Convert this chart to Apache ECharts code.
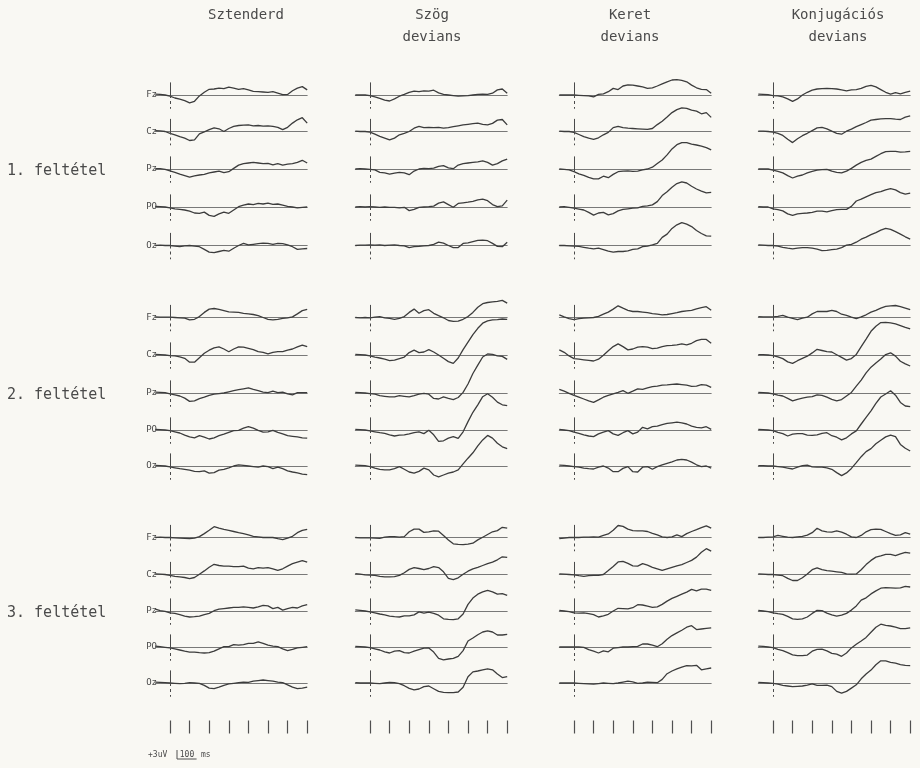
<!DOCTYPE html>
<html><head><meta charset="utf-8">
<script src="https://cdn.jsdelivr.net/npm/echarts@6/dist/echarts.min.js"></script>
<style>html,body{margin:0;padding:0;background:#f9f8f3}#chart{width:920px;height:768px}</style>
</head><body><div id="chart"></div>
<script>
// ---- axes / labels ----
const times = [-75,-50,-25,0,25,50,75,100,125,150,175,200,225,250,275,300,325,350,375,400,425,450,475,500,525,550,575,600,625,650,675,700];
const tickTimes = [0,100,200,300,400,500,600,700];
const channels = ['Fz','Cz','Pz','PO','Oz'];
const columnTitles = [['Sztenderd'],['Szög','devians'],['Keret','devians'],['Konjugációs','devians']];
const conditions = ['1. feltétel','2. feltétel','3. feltétel'];
const scaleLabel = '+3uV';
const scaleMsNum = '100';
const scaleMsUnit = 'ms';
const SCALE_UV = 3, SCALE_MS = 100;

// ---- 1. feltétel (µV) ----
const c1_szt_Fz = [0.3,0.2,0,-0.4,-1.0,-1.4,-1.9,-2.6,-2.1,-0.3,0.9,1.9,2.0,2.3,2.1,2.6,2.3,1.9,2.1,1.7,1.2,1.1,1.0,0.9,1.1,0.6,0.1,0.2,1.4,2.3,2.8,1.7];
const c1_szt_Cz = [0.3,0.2,0,-0.6,-1.1,-1.7,-2.2,-3.0,-2.8,-0.8,-0.1,0.6,1.2,0.9,0,1.0,1.7,2.0,2.1,2.2,1.9,2.0,1.8,1.9,1.7,1.4,0.6,1.4,2.8,3.9,4.6,2.8];
const c1_szt_Pz = [0.1,0.1,-0.1,-0.6,-1.1,-1.7,-2.2,-2.7,-2.3,-2.0,-1.8,-1.3,-1.0,-0.7,-1.2,-0.9,0.2,1.3,1.8,2.0,2.2,2.0,1.8,1.9,1.4,1.8,1.3,1.6,1.8,2.2,2.9,2.0];
const c1_szt_PO = [0.2,0.1,0,-0.3,-0.6,-0.8,-1.0,-1.4,-2.0,-2.1,-1.7,-2.8,-3.1,-2.3,-1.7,-2.1,-1.0,0.1,0.6,1.0,0.8,1.2,1.0,1.3,0.9,1.0,0.6,0.2,0,-0.3,-0.1,0];
const c1_szt_Oz = [0,0.1,0,0,-0.2,-0.4,-0.1,0,-0.2,-0.4,-1.3,-2.2,-2.4,-2.0,-1.6,-1.9,-0.9,0,0.7,0.2,0.4,0.6,0.8,0.7,0.4,0.7,0.6,0.2,-0.4,-1.3,-1.1,-1.0];

const c1_szog_Fz = [0,0,0,-0.2,-0.6,-1.1,-1.7,-2.0,-1.3,-0.4,0.2,0.9,1.3,1.1,1.4,1.3,1.6,0.7,0.2,0,-0.2,-0.4,-0.3,-0.2,0,0.2,0.3,0.2,0.6,1.7,2.0,0.6];
const c1_szog_Cz = [0.1,0,0,-0.2,-0.9,-1.6,-2.2,-2.8,-2.2,-1.1,-0.6,0,1.1,1.7,1.3,1.4,1.3,1.4,1.1,1.3,1.6,1.9,2.2,2.4,2.6,2.8,2.4,2.2,2.7,3.8,4.0,2.2];
const c1_szog_Pz = [0,0.1,0,-0.1,-0.3,-1.1,-1.3,-1.7,-1.4,-1.1,-1.3,-1.9,-0.7,0,0.2,0.1,0.3,0.9,1.1,0.4,0.1,1.3,1.8,2.0,2.2,2.4,2.7,2.2,1.3,1.8,2.7,3.3];
const c1_szog_PO = [0,0.1,0,0.1,0,-0.1,0,-0.1,-0.1,-0.3,-0.1,-1.2,-0.8,-0.1,0,0.1,0.3,1.3,1.7,0.8,-0.1,1.2,1.4,1.6,1.9,2.4,2.6,2.1,0.8,0.1,0.4,2.3];
const c1_szog_Oz = [0,0.1,0.1,0.2,0.1,0.2,0,0.1,0.2,0,-0.1,-0.7,-0.4,-0.3,-0.1,0,0.4,1.1,0.8,0,-0.7,-0.7,0.7,0.9,1.3,1.7,1.8,1.6,0.7,-0.3,-0.4,1.1];

const c1_ker_Fz = [0,0,0,0,-0.1,-0.2,-0.3,-0.6,0.2,0.4,1.1,2.2,1.8,3.0,3.4,3.3,3.0,2.7,2.2,2.4,3.0,3.7,4.4,5.0,5.1,4.9,4.4,3.3,2.4,1.9,1.8,0.6];
const c1_ker_Cz = [0.1,0,0,-0.3,-1.0,-1.7,-2.2,-2.6,-2.1,-1.1,-0.3,1.3,1.7,1.3,1.1,1.0,0.9,0.8,0.7,1.0,2.3,3.4,4.8,6.3,7.3,7.9,7.7,7.1,6.8,5.9,6.3,4.7];
const c1_ker_Pz = [0,-0.1,-0.3,-0.9,-1.6,-2.1,-2.8,-3.3,-3.3,-2.4,-2.9,-1.8,-0.9,-0.7,-0.6,-0.8,-0.7,-0.3,0,0.6,1.8,3.0,4.7,6.7,8.1,8.8,8.8,8.3,8.0,7.6,7.1,6.4];
const c1_ker_PO = [0,0.1,-0.1,-0.4,-0.7,-1.0,-1.8,-2.7,-2.0,-1.8,-2.6,-2.2,-1.3,-0.8,-0.6,-0.4,-0.3,0.2,0.4,0.7,1.8,3.8,5.1,6.6,7.8,8.4,8.0,6.9,6.0,5.3,4.7,4.9];
const c1_ker_Oz = [0,0,-0.1,-0.2,-0.3,-0.6,-0.9,-1.1,-0.9,-1.4,-1.9,-2.2,-2.0,-2.0,-1.8,-1.3,-1.1,-0.4,-0.2,0.2,0.7,2.7,3.8,5.7,6.9,7.6,7.1,6.3,5.0,4.0,3.2,3.1];

const c1_kon_Fz = [0.3,0.2,0.1,-0.2,-0.3,-0.6,-1.3,-2.1,-1.3,0,0.9,1.6,2.0,2.1,2.2,2.1,2.0,1.7,1.4,1.7,1.8,2.2,2.9,3.2,2.7,1.8,0.9,0.3,0.8,0.4,0.9,1.3];
const c1_kon_Cz = [0.1,0.1,0,-0.2,-0.6,-1.3,-2.6,-3.7,-2.4,-1.4,-0.6,0.3,1.2,1.4,0.9,0.1,-0.6,-0.9,0.1,0.8,1.6,2.3,3.0,3.8,4.0,4.2,4.3,4.3,4.1,4.0,4.8,5.2];
const c1_kon_Pz = [0,0,0,-0.4,-0.8,-1.3,-2.2,-3.0,-2.4,-2.0,-1.3,-0.8,-0.4,-0.2,-0.1,-0.7,-1.1,-1.3,-0.7,0.2,1.3,2.2,2.9,3.3,4.2,5.1,5.8,5.9,5.9,5.6,5.7,5.9];
const c1_kon_PO = [0.1,0,0,-0.6,-0.9,-1.3,-2.3,-2.8,-2.3,-2.1,-2.0,-1.8,-1.4,-1.4,-1.6,-1.2,-0.9,-0.8,-0.8,0.2,2.0,2.6,3.4,4.1,4.8,5.1,5.7,6.1,5.7,4.8,4.3,4.6];
const c1_kon_Oz = [0.2,0.1,0,0,-0.2,-0.6,-0.9,-1.1,-0.9,-0.7,-0.7,-0.9,-1.2,-1.7,-1.6,-1.4,-1.2,-0.7,0.1,0.4,1.1,2.1,2.8,3.6,4.3,5.1,5.7,5.4,4.6,3.8,2.9,2.1];

// ---- 2. feltétel (µV) ----
const c2_szt_Fz = [0.2,0.1,0.1,0.1,0,-0.1,-0.2,-0.8,-0.6,0.3,1.7,2.8,3.0,2.7,2.3,1.9,1.8,1.7,1.4,1.2,1.0,0.6,0,-0.6,-0.8,-0.6,-0.3,-0.1,0.2,1.2,2.3,2.7];
const c2_szt_Cz = [0.2,0.1,0,-0.2,-0.3,-0.6,-1.1,-2.4,-2.4,-0.9,0.6,1.6,2.4,2.7,2.0,1.1,2.0,2.7,2.6,2.2,1.8,1.1,0.9,0.4,0.9,1.1,1.1,1.6,2.0,2.7,3.3,2.8];
const c2_szt_Pz = [0.3,0.2,0.1,-0.3,-0.6,-1.0,-1.7,-2.8,-2.6,-1.9,-1.4,-0.8,-0.4,-0.2,0,0.4,0.8,1.1,1.4,1.7,1.2,0.8,0.3,0.1,0.6,0.1,0.3,-0.3,-0.6,0.1,0.1,0.1];
const c2_szt_PO = [0.2,0.1,0,-0.2,-0.6,-1.0,-1.7,-2.3,-2.6,-1.9,-2.4,-3.0,-2.6,-1.9,-1.4,-0.8,-0.2,-0.1,0.6,1.1,0.6,-0.1,-0.7,-0.6,-0.1,-0.8,-1.3,-1.9,-2.1,-2.3,-2.6,-2.7];
const c2_szt_Oz = [0.2,0.1,0,-0.3,-0.6,-0.9,-1.1,-1.4,-1.8,-1.9,-1.6,-2.4,-2.2,-1.4,-1.1,-0.6,0,0.4,0.2,0,-0.2,-0.4,0,-0.2,-0.9,-0.4,-0.9,-1.6,-2.0,-2.3,-2.7,-2.9];

const c2_szog_Fz = [0,-0.1,0,-0.1,0.1,0.3,-0.1,-0.3,-0.6,-0.3,0.3,1.7,2.8,1.4,2.3,2.6,1.4,0.6,-0.1,-1.0,-1.3,-1.2,-0.6,0.3,1.7,3.4,4.6,5.0,5.2,5.4,5.7,4.8];
const c2_szog_Cz = [0.2,0.1,0,-0.3,-0.7,-1.0,-1.4,-1.9,-1.7,-1.2,-0.7,0.8,1.6,0.8,1.0,1.8,1.0,0,-1.1,-2.2,-2.8,-1.0,1.8,4.3,6.8,8.9,10.6,11.4,11.7,11.8,12.0,11.9];
const c2_szog_Pz = [0.2,0.1,0,-0.2,-0.4,-0.9,-1.1,-1.3,-1.3,-0.9,-1.1,-1.3,-0.9,-0.4,-0.1,-0.4,-1.8,-2.0,-1.3,-1.8,-2.2,-1.5,0.2,3.0,6.5,9.3,12.0,13.0,12.9,12.4,12.2,11.2];
const c2_szog_PO = [0.2,0.1,0,-0.3,-0.6,-0.9,-1.1,-1.6,-2.0,-1.7,-1.6,-1.3,-0.9,-0.6,-1.2,-0.1,-1.6,-3.8,-3.6,-2.7,-2.2,-2.8,-0.6,2.8,5.9,8.4,11.1,12.1,10.9,9.3,8.4,8.1];
const c2_szog_Oz = [0.3,0.2,0.1,-0.2,-0.7,-1.1,-1.3,-1.3,-0.9,-0.2,-1.1,-2.0,-2.4,-1.8,-0.7,-1.3,-3.0,-3.6,-3.0,-2.4,-2.0,-1.3,0.7,2.6,4.4,6.7,8.7,10.2,9.3,7.6,6.4,5.8];

const c2_ker_Fz = [0.9,0.2,-0.4,-0.7,-0.4,-0.2,-0.1,0,0.4,1.1,1.8,2.8,3.9,3.1,2.4,2.0,2.0,1.8,1.6,1.3,1.1,0.9,1.0,1.3,1.6,2.0,2.2,2.4,2.9,3.3,3.6,2.4];
const c2_ker_Cz = [1.7,0.9,-0.3,-1.2,-1.4,-1.6,-1.8,-2.0,-1.4,-0.1,1.4,2.8,3.7,2.8,1.7,2.0,2.6,2.8,2.6,2.1,2.3,2.8,3.1,3.2,3.4,3.7,3.4,3.9,4.8,5.2,5.2,3.9];
const c2_ker_Pz = [1.2,0.6,-0.1,-0.8,-1.4,-2.0,-2.6,-3.1,-2.3,-1.4,-0.8,-0.3,0.2,0.8,-0.1,0.6,1.4,1.2,1.7,2.1,2.3,2.6,2.7,2.9,3.0,2.8,2.6,2.2,2.3,2.8,2.6,1.9];
const c2_ker_PO = [0.2,0,-0.2,-0.7,-1.1,-1.6,-2.0,-2.2,-1.3,-0.7,-0.2,-1.3,-1.8,-0.9,-0.2,-1.3,-0.7,0.9,0.4,1.1,1.3,1.8,2.2,2.4,2.6,2.4,2.0,1.3,0.9,0.7,1.1,0.2];
const c2_ker_Oz = [0.3,0.2,0,-0.2,-0.4,-0.7,-0.9,-1.0,-0.4,0,-0.7,-1.9,-1.9,-0.8,-0.2,-1.9,-2.0,-0.4,-0.2,-1.1,-0.2,0.4,0.9,1.4,2.0,2.2,2.0,1.3,0.4,-0.2,0,-0.7];

const c2_kon_Fz = [0.3,0.2,0.2,0.2,0.4,0.7,0.1,-0.3,-0.7,-0.2,0.1,1.2,2.0,2.0,2.0,2.4,2.0,1.1,0.7,0.1,-0.4,0.2,0.9,1.8,2.4,3.1,3.7,3.9,4.0,3.6,3.1,2.6];
const c2_kon_Cz = [0.1,0.1,0,-0.2,-0.6,-1.2,-2.3,-2.8,-1.9,-1.1,-0.4,0.7,1.9,1.5,1.1,1.0,0.1,-0.8,-1.7,-1.2,0.2,2.8,5.3,7.9,9.6,10.8,10.9,10.7,10.4,9.8,9.2,8.7];
const c2_kon_Pz = [0.2,0.1,0,-0.3,-0.7,-1.0,-1.8,-2.6,-2.1,-1.7,-1.4,-1.2,-0.6,-0.8,-1.4,-2.1,-2.6,-2.2,-1.0,0.2,2.3,4.3,6.7,8.6,10.0,11.3,12.8,13.4,12.3,10.6,9.7,9.0];
const c2_kon_PO = [0.2,0.1,0,-0.2,-0.8,-1.2,-2.0,-1.4,-1.2,-1.2,-1.7,-1.8,-1.6,-1.1,-0.9,-1.9,-2.4,-3.3,-2.6,-1.3,-0.3,2.0,4.2,6.4,8.9,11.0,12.0,13.1,11.6,9.2,8.0,7.8];
const c2_kon_Oz = [0.1,0.1,0,0,-0.2,-0.4,-0.7,-1.0,-0.4,0.1,0.3,-0.3,-0.4,-0.4,-0.6,-1.1,-2.2,-3.2,-2.3,-0.8,1.1,3.1,4.8,5.8,7.4,8.6,9.7,10.3,9.8,7.2,5.9,5.0];

// ---- 3. feltétel (µV) ----
const c3_szt_Fz = [0,0.1,0,0,-0.1,-0.2,-0.3,-0.4,-0.2,0.3,1.3,2.4,3.6,3.1,2.7,2.4,2.0,1.6,1.3,0.9,0.4,0.2,0,0,0,-0.4,-0.7,-0.2,0.4,1.6,2.4,2.7];
const c3_szt_Cz = [0.2,0.1,0,-0.3,-0.6,-0.8,-1.0,-1.4,-1.0,0.1,1.2,2.4,3.4,3.0,2.8,2.8,2.6,2.6,2.8,2.1,1.9,2.3,2.1,2.3,1.9,1.4,1.9,2.8,3.6,4.1,4.6,4.1];
const c3_szt_Pz = [0.6,0.1,-0.1,-0.6,-0.8,-1.2,-1.7,-2.0,-1.9,-1.7,-1.2,-0.8,0.1,0.6,0.8,1.0,1.2,1.2,1.4,1.2,1.0,1.4,1.9,1.7,0.8,1.2,0.3,0.8,1.2,1.0,1.7,2.1];
const c3_szt_PO = [0.3,0.1,-0.1,-0.3,-0.6,-1.0,-1.4,-1.7,-1.7,-1.9,-2.0,-1.9,-1.4,-0.6,0.1,0.1,0.8,0.6,0.8,1.2,1.2,1.7,1.2,0.6,0.3,0.1,-0.6,-1.2,-0.8,-0.3,-0.1,0.1];
const c3_szt_Oz = [0.3,0.2,0.1,0,-0.1,-0.2,-0.1,0.1,0,-0.1,-0.8,-1.7,-1.9,-1.4,-0.8,-0.3,-0.1,0.1,0.3,0.2,0.6,0.8,1.0,0.8,0.6,0.3,0.1,-0.6,-1.4,-1.9,-1.7,-1.4];

const c3_szog_Fz = [0,-0.1,-0.1,-0.1,-0.2,-0.3,0.1,0.3,0.3,0.1,0.3,1.9,2.8,2.8,1.7,1.9,2.2,2.1,0.7,-0.8,-2.1,-2.3,-2.4,-2.2,-1.9,-0.8,0.1,1.0,1.9,2.3,3.4,3.1];
const c3_szog_Cz = [0.3,0.1,-0.1,-0.2,-0.3,-0.6,-0.8,-0.8,-0.7,-0.3,0.6,1.7,2.3,2.0,1.6,2.0,2.6,2.3,0.9,-1.3,-1.7,-1.1,0.1,1.1,1.9,2.4,3.0,3.6,4.1,4.9,5.9,5.7];
const c3_szog_Pz = [0.4,0.2,0,-0.3,-0.6,-1.0,-1.3,-1.7,-1.9,-2.0,-1.6,-1.6,-1.3,-0.3,-0.7,-0.4,-0.8,-1.4,-2.6,-2.8,-2.9,-2.6,-1.0,2.2,4.3,5.6,6.4,6.9,6.4,5.6,5.8,5.2];
const c3_szog_PO = [0.2,0.1,0,-0.2,-0.6,-1.0,-1.6,-2.0,-1.4,-1.2,-1.9,-2.0,-1.4,-0.9,-0.4,-0.3,-1.7,-3.8,-4.3,-4.0,-3.8,-3.1,-1.2,2.0,3.0,4.1,5.0,5.4,5.0,4.0,4.0,4.2];
const c3_szog_Oz = [0.1,0,0,0,-0.1,-0.2,0,0.2,0.1,-0.2,-0.9,-1.8,-2.3,-2.0,-1.2,-1.0,-1.9,-2.8,-3.1,-3.2,-3.2,-3.0,-1.4,2.1,3.7,4.0,4.4,4.7,4.4,3.0,1.8,2.1];

const c3_ker_Fz = [-0.4,-0.2,0,0,0,0.1,0.1,0.2,0.1,0.7,1.2,2.4,4.0,3.7,2.8,2.3,2.2,2.2,2.0,1.4,0.9,0.2,0,0.2,0.9,0.3,1.3,2.0,2.6,3.3,3.9,3.1];
const c3_ker_Cz = [0.2,0.1,0,-0.1,-0.4,-0.6,-0.4,-0.3,-0.3,0,1.3,2.7,4.2,4.4,3.7,2.9,2.8,3.6,3.1,2.4,1.9,1.4,1.9,2.4,2.9,3.3,4.0,4.7,5.8,7.4,8.6,7.8];
const c3_ker_Pz = [0.2,0,-0.2,-0.6,-0.7,-0.6,-0.9,-1.2,-2.0,-1.6,-1.1,0,0.9,0.8,0.7,1.1,2.1,2.0,1.6,1.2,1.4,2.2,3.3,4.2,4.9,5.6,6.3,7.2,6.7,7.3,7.3,6.9];
const c3_ker_PO = [0,0,0,0,0,-0.1,-0.9,-1.4,-2.0,-1.3,-1.6,-0.4,-0.2,0,0,0.1,0.2,1.0,1.0,0.6,0.1,1.1,2.6,3.8,4.7,5.6,6.6,7.1,5.8,6.0,6.2,6.4];
const c3_ker_Oz = [0,0,0,0,-0.1,-0.2,-0.3,-0.4,-0.2,0,-0.1,-0.2,0,0.3,0.6,0.4,-0.1,0,0.3,0.2,0.1,1.2,3.1,4.0,4.7,5.3,5.8,5.7,5.9,4.4,4.7,5.0];

const c3_kon_Fz = [0,0,0.1,0.2,0.7,0.4,0.1,0,0.2,0.4,0.8,1.6,3.1,2.2,1.9,1.8,2.2,1.8,1.1,0.2,0,0.7,1.9,2.6,2.8,2.7,2.0,1.3,0.7,0.9,1.6,1.1];
const c3_kon_Cz = [0.2,0.1,0,0,-0.2,-0.4,-1.3,-2.0,-2.0,-1.1,0.2,1.6,2.2,1.6,1.3,1.1,0.9,0.7,0.2,0.1,0.2,1.6,3.3,4.7,5.8,6.2,6.7,6.7,6.3,6.9,7.4,7.1];
const c3_kon_Pz = [0.2,0,-0.2,-0.6,-0.9,-1.1,-1.8,-2.6,-2.8,-2.6,-2.0,-0.8,0.2,0.1,-0.7,-1.3,-1.7,-1.4,-0.8,0.3,1.7,3.6,4.4,5.7,6.7,7.6,7.8,7.7,7.6,7.7,8.2,8.0];
const c3_kon_PO = [0.3,0.2,0,-0.2,-0.8,-1.2,-1.9,-2.6,-2.9,-2.9,-2.7,-1.4,-0.8,-0.7,-1.3,-2.1,-2.4,-3.1,-2.0,-0.3,0.9,2.0,3.2,4.9,6.6,7.6,7.2,7.0,6.6,6.1,6.1,6.4];
const c3_kon_Oz = [0.2,0.1,0,-0.1,-0.4,-0.8,-1.0,-1.2,-1.1,-1.0,-0.7,-0.3,-0.8,-0.8,-0.7,-1.2,-2.8,-3.4,-2.8,-1.7,-0.6,1.4,3.0,4.3,6.1,7.4,7.4,6.9,6.6,6.1,5.9,5.8];

// ---- layout (pixels) ----
const W = 920, H = 768;
const PX_PER_MS = 0.196, PX_PER_UV = 3, Y_RANGE = 15;
const T_MIN = -75, T_MAX = 700;
const COL_ONSET_X = [170, 370, 574, 773];
const ROW_BASELINE_Y = [[95,131.5,169,207,245.5],[317.5,355,393,430,466],[537.5,574.5,611,647,683]];
const ONSET_UP = 4.2, ONSET_DOWN = 4.6;
const TICK_TOP = 721, TICK_LEN = 13;
const SCALE_X = 177, SCALE_Y = 759;
const FONT = '"DejaVu Sans Mono", "Liberation Mono", monospace';
const INK = '#3c3c3c';

const DATA = [
  [[c1_szt_Fz,c1_szt_Cz,c1_szt_Pz,c1_szt_PO,c1_szt_Oz],[c1_szog_Fz,c1_szog_Cz,c1_szog_Pz,c1_szog_PO,c1_szog_Oz],[c1_ker_Fz,c1_ker_Cz,c1_ker_Pz,c1_ker_PO,c1_ker_Oz],[c1_kon_Fz,c1_kon_Cz,c1_kon_Pz,c1_kon_PO,c1_kon_Oz]],
  [[c2_szt_Fz,c2_szt_Cz,c2_szt_Pz,c2_szt_PO,c2_szt_Oz],[c2_szog_Fz,c2_szog_Cz,c2_szog_Pz,c2_szog_PO,c2_szog_Oz],[c2_ker_Fz,c2_ker_Cz,c2_ker_Pz,c2_ker_PO,c2_ker_Oz],[c2_kon_Fz,c2_kon_Cz,c2_kon_Pz,c2_kon_PO,c2_kon_Oz]],
  [[c3_szt_Fz,c3_szt_Cz,c3_szt_Pz,c3_szt_PO,c3_szt_Oz],[c3_szog_Fz,c3_szog_Cz,c3_szog_Pz,c3_szog_PO,c3_szog_Oz],[c3_ker_Fz,c3_ker_Cz,c3_ker_Pz,c3_ker_PO,c3_ker_Oz],[c3_kon_Fz,c3_kon_Cz,c3_kon_Pz,c3_kon_PO,c3_kon_Oz]]
];

const grids = [], xAxes = [], yAxes = [], series = [], graphics = [];
const hiddenY = (gi) => ({gridIndex: gi, type:'value', min:-Y_RANGE, max:Y_RANGE, show:false});
let gi = 0;

DATA.forEach((block, r) => {
  block.forEach((chans, c) => {
    chans.forEach((arr, k) => {
      const base = ROW_BASELINE_Y[r][k];
      grids.push({left: COL_ONSET_X[c] + T_MIN*PX_PER_MS, top: base - Y_RANGE*PX_PER_UV,
        width: (T_MAX - T_MIN)*PX_PER_MS, height: 2*Y_RANGE*PX_PER_UV, outerBoundsMode:'none', containLabel:false});
      xAxes.push({gridIndex: gi, type:'value', min:T_MIN, max:T_MAX,
        axisLine:{show:true, onZero:true, lineStyle:{color:'#6a6a6a', width:0.9}},
        axisTick:{show:false}, axisLabel:{show:false}, splitLine:{show:false}});
      yAxes.push(hiddenY(gi));
      series.push({type:'line', xAxisIndex:gi, yAxisIndex:gi, name: conditions[r]+' '+columnTitles[c].join(' ')+' '+channels[k],
        data: times.map((t,i) => [t, arr[i]]), showSymbol:false, symbol:'none', clip:false, silent:true,
        lineStyle:{color:INK, width:1.3},
        markLine:{silent:true, symbol:['none','none'], label:{show:false}, animation:false,
          lineStyle:{color:'#4a4a4a', width:1, type:'solid'},
          data:[
            [{coord:[0, ONSET_UP]}, {coord:[0, 0]}],
            [{coord:[0, 0], lineStyle:{type:[3,3], color:'#4a4a4a', width:1}}, {coord:[0, -ONSET_DOWN]}]
          ]}
      });
      gi++;
    });
  });
});

// time ticks under each column
COL_ONSET_X.forEach((x0) => {
  grids.push({left: x0, top: TICK_TOP - 1, width: tickTimes[tickTimes.length-1]*PX_PER_MS, height: 1, outerBoundsMode:'none'});
  xAxes.push({gridIndex: gi, type:'value', min: tickTimes[0], max: tickTimes[tickTimes.length-1], interval: 100,
    axisLine:{show:false}, axisTick:{show:true, length:TICK_LEN, lineStyle:{color:'#505050', width:1.2}},
    axisLabel:{show:false}, splitLine:{show:false}});
  yAxes.push(hiddenY(gi));
  gi++;
});

// scale bar (+3 µV / 100 ms)
grids.push({left: SCALE_X, top: SCALE_Y - Y_RANGE*PX_PER_UV, width: SCALE_MS*PX_PER_MS, height: 2*Y_RANGE*PX_PER_UV, outerBoundsMode:'none'});
xAxes.push({gridIndex: gi, type:'value', min:0, max:SCALE_MS, show:false});
yAxes.push(hiddenY(gi));
series.push({type:'line', xAxisIndex:gi, yAxisIndex:gi, data:[[0,SCALE_UV],[0,0],[SCALE_MS,0]], showSymbol:false, symbol:'none', clip:false, silent:true,
  lineStyle:{color:'#505050', width:1}});
gi++;

// text
const headerX = [246, 432, 630, 838];
columnTitles.forEach((lines, c) => {
  lines.forEach((txt, j) => {
    graphics.push({type:'text', x: headerX[c], y: 15 + j*22, silent:true,
      style:{text: txt, font: '14px ' + FONT, fill:'#4a4a4a', align:'center', verticalAlign:'middle'}});
  });
});
conditions.forEach((txt, r) => {
  graphics.push({type:'text', x: 7, y: ROW_BASELINE_Y[r][2] + 2, silent:true,
    style:{text: txt, font: '15px ' + FONT, fill:'#4a4a4a', align:'left', verticalAlign:'middle'}});
  channels.forEach((ch, k) => {
    graphics.push({type:'text', x: 157, y: ROW_BASELINE_Y[r][k], silent:true,
      style:{text: ch, font: '9px ' + FONT, fill:'#4a4a4a', align:'right', verticalAlign:'middle'}});
  });
});
graphics.push({type:'text', x: 148, y: SCALE_Y - 4, silent:true,
  style:{text: scaleLabel, font: '8px ' + FONT, fill:'#4a4a4a', align:'left', verticalAlign:'middle'}});
graphics.push({type:'text', x: SCALE_X + 10, y: SCALE_Y - 4, silent:true,
  style:{text: scaleMsNum, font: '8px ' + FONT, fill:'#4a4a4a', align:'center', verticalAlign:'middle'}});
graphics.push({type:'text', x: SCALE_X + 24, y: SCALE_Y - 4, silent:true,
  style:{text: scaleMsUnit, font: '8px ' + FONT, fill:'#4a4a4a', align:'left', verticalAlign:'middle'}});

const chart = echarts.init(document.getElementById('chart'), null, {renderer:'canvas', width:W, height:H});
chart.setOption({
  backgroundColor:'#f9f8f3',
  animation:false,
  grid: grids, xAxis: xAxes, yAxis: yAxes, series: series,
  graphic: graphics
});
</script></body></html>
